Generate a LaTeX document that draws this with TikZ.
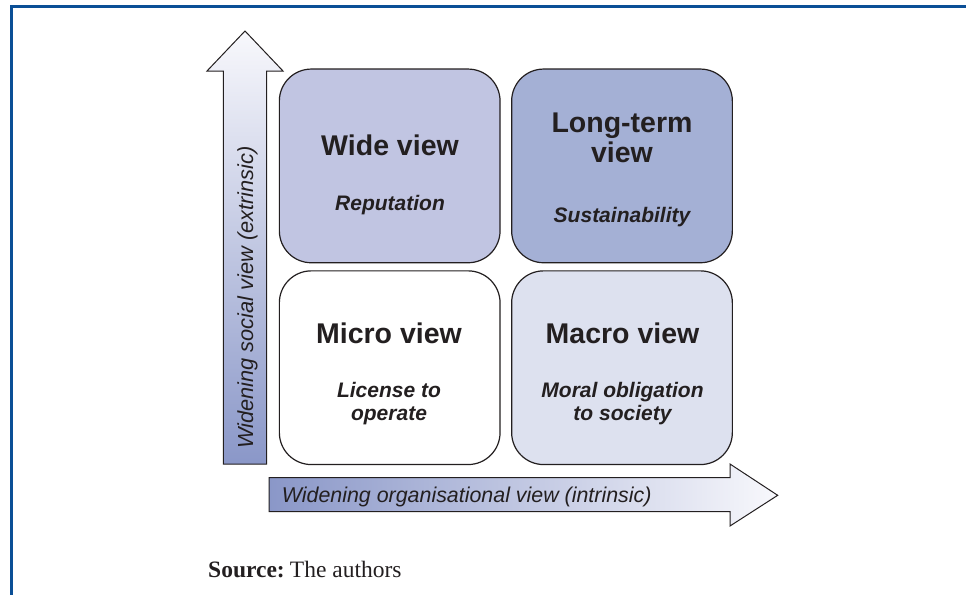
\documentclass[tikz,border=0pt]{standalone}
\usepackage{fontspec}
\setmainfont{Liberation Serif}
\setsansfont{Liberation Sans}
\begin{document}
\definecolor{frameblue}{HTML}{0B4F96}
\definecolor{inkdark}{HTML}{231F20}
\definecolor{fillwide}{HTML}{C1C5E2}
\definecolor{filllong}{HTML}{A4B0D5}
\definecolor{fillmacro}{HTML}{DDE1EF}
\definecolor{arrowdark}{HTML}{8A97C8}
\definecolor{arrowlight}{HTML}{F8F8FC}
\begin{tikzpicture}[x=1pt,y=-1pt,
  quad/.style={draw=inkdark,line width=1.2pt,rounded corners=32pt,
    minimum width=220.7pt,minimum height=193.7pt,inner sep=0pt},
  title/.style={anchor=base,text=inkdark,inner sep=0pt,
    font=\sffamily\bfseries\fontsize{28.5}{30}\selectfont},
  subtitle/.style={anchor=base,text=inkdark,inner sep=0pt,
    font=\sffamily\bfseries\itshape\fontsize{21}{22.7}\selectfont},
  axislabel/.style={text=inkdark,font=\sffamily\itshape\fontsize{21.4}{24}\selectfont,inner sep=0pt},
  bigarrow/.style={draw=inkdark,line width=1pt,line join=miter}
]
\useasboundingbox (0,0) rectangle (966,595);

% page frame
\draw[frameblue,line width=2.8pt] (966,6.3) -- (11.3,6.3) -- (11.3,595);

% vertical axis arrow
\draw[bigarrow,top color=arrowlight,bottom color=arrowdark]
  (223.3,464) -- (223.3,71) -- (207,71) -- (245,31) -- (283,71)
  -- (266.7,71) -- (266.7,464) -- cycle;
\node[axislabel,rotate=90,anchor=base] (ylab) at (253,297.5)
  {\fontsize{21.8}{24}\selectfont Widening social view (extrinsic)};

% horizontal axis arrow
\draw[bigarrow,left color=arrowdark,right color=arrowlight]
  (269,477.7) -- (730,477.7) -- (730,464) -- (777.7,495.3) -- (730,526)
  -- (730,511.7) -- (269,511.7) -- cycle;
\node[axislabel,anchor=base] (xlab) at (466.7,502.7) {Widening organisational view (intrinsic)};

% quadrants
\node[quad,fill=fillwide]  (wide)  at (389.7,165.9) {};
\node[quad,fill=filllong]  (long)  at (622.0,165.9) {};
\node[quad,fill=white]     (micro) at (389.7,367.7) {};
\node[quad,fill=fillmacro] (macro) at (622.0,367.7) {};

\node[title] (wideT) at (390,155) {Wide view};
\node[subtitle] (wideS) at (390,210.5) {Reputation};

\node[title] (longT1) at (622,132.7) {Long-term};
\node[title] (longT2) at (622,162.7) {view};
\node[subtitle] (longS) at (622,222.5) {Sustainability};

\node[title] (microT) at (389,343.3) {Micro view};
\node[subtitle] (microS1) at (389,397.7) {License to};
\node[subtitle] (microS2) at (389,420.3) {operate};

\node[title] (macroT) at (622.5,343.3) {Macro view};
\node[subtitle] (macroS1) at (622.5,397.7) {Moral obligation};
\node[subtitle] (macroS2) at (622.5,420.3) {to society};

% source line
\node[anchor=base west,inner sep=0pt,text=inkdark,font=\fontsize{23.5}{25}\selectfont]
  (source) at (208,577) {\textbf{Source:}\hspace{0.22em}The authors};
\end{tikzpicture}
\end{document}
